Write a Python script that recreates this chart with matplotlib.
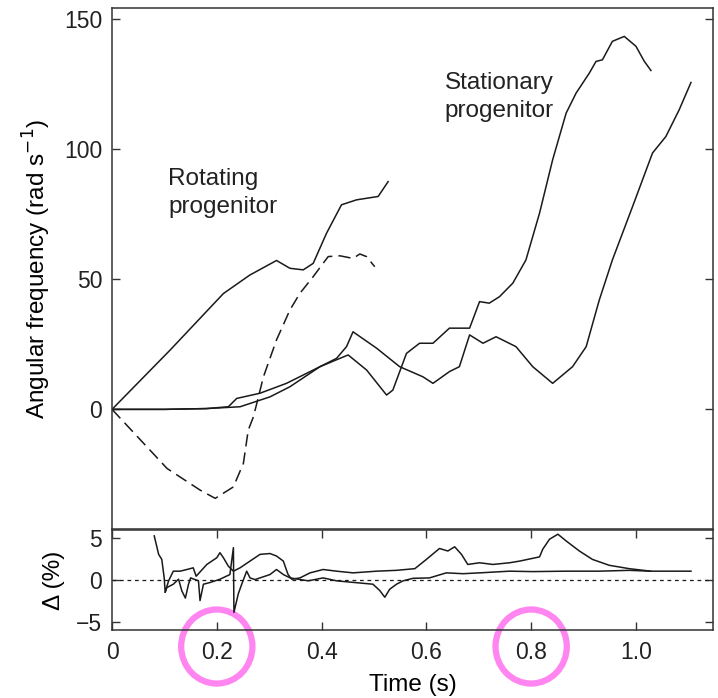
import numpy as np
import matplotlib
matplotlib.use("Agg")
import matplotlib.pyplot as plt
from matplotlib.patches import Ellipse
import matplotlib.transforms as mtransforms

plt.rcParams['font.family'] = ['Liberation Sans', 'DejaVu Sans']

# rotating progenitor, solid
rot_t = [0, 0.111, 0.2126, 0.263, 0.314, 0.3396, 0.365, 0.384, 0.4095, 0.438, 0.4667, 0.508, 0.527]
rot_w = [0, 22.8, 44.5, 51.6, 57.2, 54.2, 53.6, 56.1, 67.7, 78.6, 80.5, 81.8, 87.5]

# rotating progenitor, dashed
rotd_t = [0, 0.105, 0.168, 0.197, 0.2316, 0.2507, 0.26, 0.27, 0.289, 0.314, 0.3396,
          0.3587, 0.384, 0.4126, 0.435, 0.46, 0.473, 0.4857, 0.5015]
rotd_w = [0, -22.7, -31, -34.2, -29.8, -20.8, -8, -2.8, 12.5, 26.7, 38.2,
          44.6, 51, 58.7, 59, 58, 59.7, 58.7, 54.8]

# stationary progenitor, curve that peaks near 1.0 s
sta_t = [0, 0.1, 0.18, 0.2444, 0.3015, 0.3396, 0.397, 0.435, 0.4507, 0.486, 0.524, 0.536,
         0.562, 0.587, 0.6126, 0.644, 0.6825, 0.7015, 0.72, 0.7396, 0.765, 0.79, 0.816,
         0.841, 0.8667, 0.8857, 0.911, 0.9238, 0.936, 0.955, 0.9777, 1.0, 1.016, 1.0286]
sta_w = [0, 0, 0.3, 1, 4.8, 8.7, 16.4, 19.6, 20.9, 15.1, 5.5, 7.4,
         21.5, 25.4, 25.4, 31.2, 31.2, 41.4, 40.8, 43.3, 48.5, 57.4, 75.4,
         95.9, 113.8, 121.5, 129.2, 133.7, 134.3, 141.4, 143.3, 139.5, 133.7, 130.2]

# stationary progenitor, curve that ends at 1.1 s
stb_t = [0, 0.1, 0.18, 0.222, 0.238, 0.2825, 0.333, 0.384, 0.4286, 0.4476, 0.46, 0.505,
         0.549, 0.5935, 0.6126, 0.644, 0.663, 0.6825, 0.708, 0.733, 0.771, 0.803, 0.841,
         0.879, 0.905, 0.93, 0.955, 0.9935, 1.0316, 1.057, 1.0825, 1.105]
stb_w = [0, 0, 0.3, 1, 4.2, 6.2, 10, 15.1, 19.6, 24.1, 29.8, 23.5,
         16.4, 12.5, 10, 14.5, 16.4, 28.6, 25.4, 27.9, 24.1, 16.4, 10,
         16.4, 24.1, 42, 57.4, 77.9, 98.5, 104.8, 115.1, 125.6]

# relative difference, upper curve
du_t = [0.0806, 0.089, 0.095, 0.0996, 0.1015, 0.108, 0.117, 0.13, 0.143, 0.155, 0.1606,
        0.181, 0.2, 0.206, 0.2126, 0.222, 0.2317, 0.2444, 0.2634, 0.2825, 0.3015, 0.314,
        0.327, 0.336, 0.343, 0.3587, 0.378, 0.403, 0.4286, 0.46, 0.505, 0.543, 0.578,
        0.6, 0.625, 0.641, 0.654, 0.667, 0.679, 0.7015, 0.727, 0.7587, 0.778, 0.816,
        0.822, 0.835, 0.851, 0.8667, 0.892, 0.917, 0.949, 0.987, 1.028]
du_d = [5.2, 3.0, 2.4, 0.2, -1.5, -0.15, 1.0, 1.0, 1.2, 1.4, 0.4,
        1.8, 2.6, 3.2, 2.6, 1.6, 1.0, 1.4, 2.2, 3.0, 3.1, 2.8,
        2.2, 0.6, 0.04, 0.2, 0.8, 1.2, 1.0, 0.8, 1.0, 1.1, 1.3,
        2.4, 3.7, 3.4, 3.9, 3.0, 1.8, 2.0, 1.8, 2.0, 2.2, 2.7,
        3.6, 4.8, 5.4, 4.6, 3.4, 2.4, 1.7, 1.3, 1.0]

# relative difference, lower curve
dl_t = [0.1015, 0.1047, 0.117, 0.127, 0.1333, 0.14, 0.146, 0.15, 0.165, 0.168, 0.1745,
        0.187, 0.206, 0.225, 0.2317, 0.2327, 0.241, 0.2476, 0.257, 0.2634, 0.273, 0.2825,
        0.3015, 0.314, 0.327, 0.34, 0.3745, 0.403, 0.4286, 0.498, 0.511, 0.5206, 0.53,
        0.543, 0.5555, 0.5745, 0.606, 0.638, 0.67, 0.7015, 0.7587, 0.803, 0.8667, 0.93,
        0.987, 1.028, 1.105]
dl_d = [-1.5, -0.95, -0.55, 0.05, -1.35, -2.2, -0.55, 0.2, -0.15, -2.5, -0.55,
        -0.35, 0.04, 0.6, 3.8, -3.9, -1.7, -0.55, 1.0, 0.2, 0.0, 0.2,
        0.6, 1.2, 0.6, 0.2, -0.15, 0.2, -0.15, -0.55, -1.3, -2.1, -1.15,
        -0.55, -0.15, 0.15, 0.2, 0.8, 0.7, 0.8, 1.0, 0.95, 1.0, 1.0,
        1.1, 1.0, 1.0]

circled_ticks = [0.2, 0.8]

line_col = '#1a1a1a'
spine_col = '#333333'

fig = plt.figure(figsize=(7.18, 6.98), dpi=100)
ax1 = fig.add_axes([0.156, 0.242, 0.837, 0.7465])
ax2 = fig.add_axes([0.156, 0.0974, 0.837, 0.1433])

ax1.plot(rot_t, rot_w, color=line_col, lw=1.1)
ax1.plot(rotd_t, rotd_w, color=line_col, lw=1.1, ls=(0, (8, 4)))
ax1.plot(sta_t, sta_w, color=line_col, lw=1.1)
ax1.plot(stb_t, stb_w, color=line_col, lw=1.1)

ax1.set_xlim(0, 1.147)
ax1.set_ylim(-46, 154.2)
ax1.set_yticks([0, 50, 100, 150])
ax1.tick_params(axis='x', bottom=False, labelbottom=False)
ax1.tick_params(axis='y', direction='in', left=True, right=True, length=6,
                width=1.0, labelsize=16.5, pad=7, colors=spine_col, labelcolor='#222222')
ax1.set_ylabel('Angular frequency (rad s$^{-1}$)', fontsize=17.5, labelpad=8)

ax1.text(0.107, 83, 'Rotating\nprogenitor', fontsize=17.5, ha='left', va='center',
         linespacing=1.35, color='#222222')
ax1.text(0.635, 120, 'Stationary\nprogenitor', fontsize=17.5, ha='left', va='center',
         linespacing=1.35, color='#222222')

ax2.plot(du_t, du_d, color=line_col, lw=1.1)
ax2.plot(dl_t, dl_d, color=line_col, lw=1.1)
ax2.axhline(0, color=line_col, lw=0.9, ls=(0, (3, 3)))

ax2.set_xlim(0, 1.147)
ax2.set_ylim(-6, 5.9)
ax2.set_yticks([-5, 0, 5])
ax2.set_yticklabels(['\u22125', '0', '5'])
ax2.set_xticks([0, 0.2, 0.4, 0.6, 0.8, 1.0])
ax2.set_xticklabels(['0', '0.2', '0.4', '0.6', '0.8', '1.0'])
ax2.tick_params(axis='both', direction='in', left=True, right=True, top=True, bottom=True,
                length=6, width=1.0, labelsize=16.5, colors=spine_col, labelcolor='#222222')
ax2.tick_params(axis='y', pad=7)
ax2.tick_params(axis='x', pad=8)
ax2.set_ylabel('\u0394 (%)', fontsize=17.5, labelpad=8)
ax2.set_xlabel('Time (s)', fontsize=17.5, labelpad=7)

for ax in (ax1, ax2):
    for sp in ax.spines.values():
        sp.set_color(spine_col)
        sp.set_linewidth(1.1)

# align the two y labels
fig.align_ylabels([ax1, ax2])

# pink rings round two of the tick labels
trans = mtransforms.blended_transform_factory(ax2.transData, ax2.transAxes)
for t in circled_ticks:
    ring = Ellipse((t, -0.165), width=0.136, height=0.74, transform=trans,
                   fill=False, edgecolor='#ff85f0', lw=4.5, clip_on=False)
    ax2.add_patch(ring)

fig.savefig('out.png', dpi=100)
